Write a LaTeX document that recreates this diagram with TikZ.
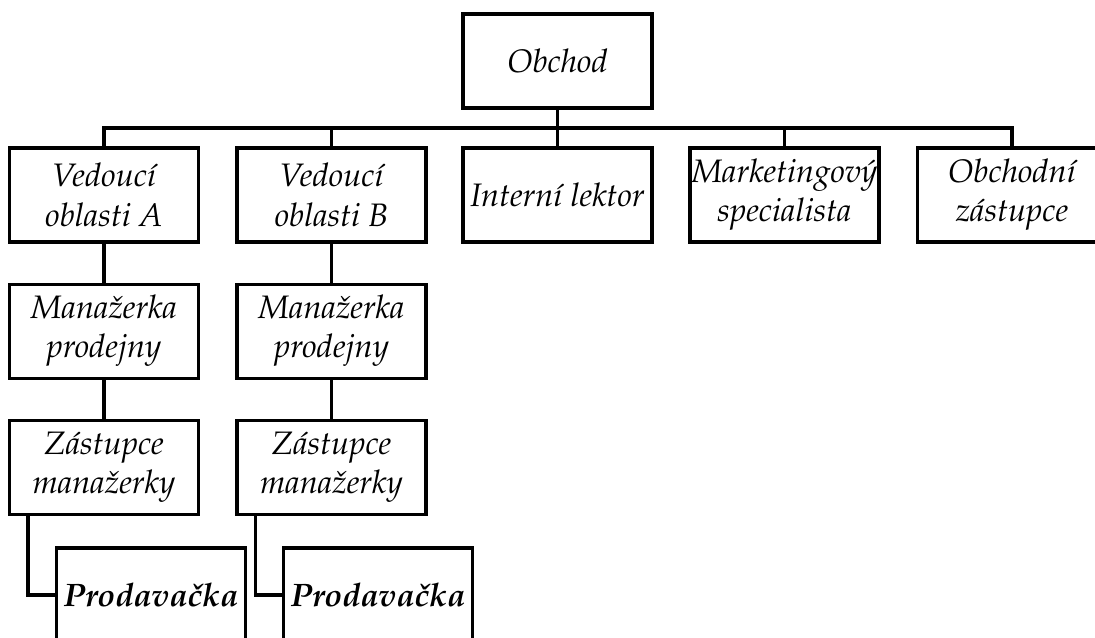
\documentclass[tikz,border=0pt]{standalone}
\usepackage[T1]{fontenc}
\usepackage{mathpazo}
\usepackage{tikz}
\usetikzlibrary{positioning}
\tikzstyle{line}   = [line width=1.75pt]
\tikzstyle{unit}   = [draw,
                      line width=1.75pt,
                      fill=white,
                      rectangle,
                      minimum width=3.78cm,
                      minimum height=1.88cm,
                      inner sep=0pt,
                      align=center,
                      font=\fontsize{18.5}{22.3}\selectfont\itshape]
\tikzstyle{seller} = [unit,
                      font=\fontsize{18.5}{22.3}\selectfont\bfseries\itshape]

\begin{document}
\begin{tikzpicture}[x=0.02cm, y=-0.02cm]

  \clip (0,0) rectangle (1095,637);

  % Nodes
  \node[unit] (obchod) at (557.5,61) {Obchod};
  \coordinate (bus) at (557.5,128);

  \node[unit] (vedA)   at (104,195)   {Vedouc\'{\i}\\oblasti A};
  \node[unit] (vedB)   at (331.5,195) {Vedouc\'{\i}\\oblasti B};
  \node[unit] (lektor) at (557.5,195) {Intern\'{\i} lektor};
  \node[unit] (market) at (784.5,195) {Marketingov\'{y}\\specialista};
  \node[unit] (zast)   at (1012,195)  {Obchodn\'{\i}\\z\'{a}stupce};

  \node[unit, below=0.78cm of vedA] (manA) {Mana\v{z}erka\\prodejny};
  \node[unit, below=0.78cm of vedB] (manB) {Mana\v{z}erka\\prodejny};

  \node[unit, below=0.78cm of manA] (zasA) {Z\'{a}stupce\\mana\v{z}erky};
  \node[unit, below=0.78cm of manB] (zasB) {Z\'{a}stupce\\mana\v{z}erky};

  \node[seller] (prodA) at (151,595) {Prodava\v{c}ka};
  \node[seller] (prodB) at (378,595) {Prodava\v{c}ka};

  % Edges
  \draw[line] (obchod.south) -- (bus);
  \foreach \n in {vedA,vedB,lektor,market,zast}
    \draw[line] (bus) -| (\n.north);

  \draw[line] (vedA) -- (manA);
  \draw[line] (vedB) -- (manB);
  \draw[line] (manA) -- (zasA);
  \draw[line] (manB) -- (zasB);

  \draw[line] ([xshift=0.4cm]zasA.south west) |- (prodA.west);
  \draw[line] ([xshift=0.4cm]zasB.south west) |- (prodB.west);

\end{tikzpicture}
\end{document}
